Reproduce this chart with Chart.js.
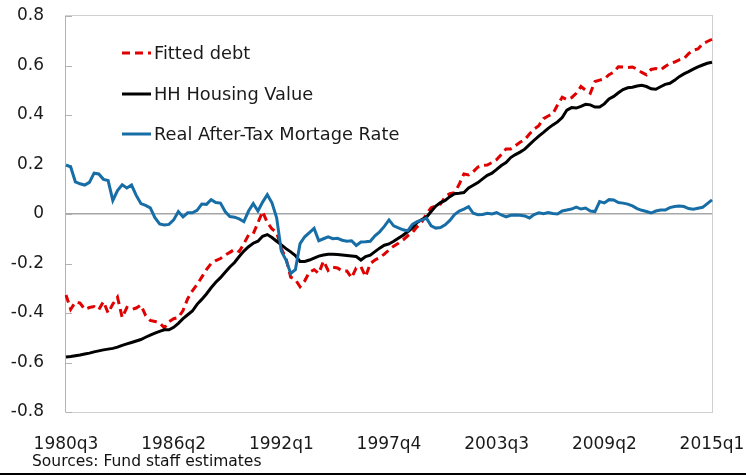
<!DOCTYPE html>
<html lang="en">
<head>
  <meta charset="UTF-8">
  <title>Fitted debt vs housing value</title>
  <script src="https://cdn.jsdelivr.net/npm/chart.js"></script>
  <style>
    body {
      margin: 0;
      padding: 0;
      background: #ffffff;
    }

    .wrap {
      position: relative;
      width: 746px;
      height: 475px;
      overflow: hidden;
    }

    .source {
      position: absolute;
      left: 32px;
      top: 452px;
      font-family: 'DejaVu Sans', sans-serif;
      font-size: 15.5px;
      color: #111;
      white-space: nowrap;
    }

    .bottom-rule {
      position: absolute;
      left: 0;
      top: 473px;
      width: 746px;
      height: 2px;
      background: #000;
    }
  </style>
</head>
<body>

  <div class="wrap">
    <canvas id="debtChart" width="746" height="475"></canvas>
    <div class="source">Sources: Fund staff estimates</div>
    <div class="bottom-rule"></div>
  </div>

  <script>
    // quarterly series, 1980q3 .. 2015q1 (139 points)
    const startYear = 1980;
    const startQuarter = 3;
    const tickLabels = ['1980q3', '1986q2', '1992q1', '1997q4', '2003q3', '2009q2', '2015q1'];

    const fittedDebt = [
      -0.327, -0.385, -0.356, -0.360, -0.385, -0.378, -0.374, -0.387, -0.354, -0.400,
      -0.364, -0.336, -0.418, -0.378, -0.386, -0.380, -0.368, -0.410, -0.430, -0.434,
      -0.440, -0.460, -0.435, -0.423, -0.418, -0.390, -0.342, -0.310, -0.285, -0.255,
      -0.225, -0.200, -0.188, -0.180, -0.166, -0.155, -0.143, -0.152, -0.120, -0.085,
      -0.080, -0.035, 0.010, -0.035, -0.060, -0.075, -0.140, -0.180, -0.255, -0.265,
      -0.294, -0.270, -0.235, -0.225, -0.240, -0.190, -0.228, -0.215, -0.218, -0.230,
      -0.230, -0.258, -0.218, -0.213, -0.253, -0.200, -0.186, -0.176, -0.162, -0.145,
      -0.130, -0.118, -0.105, -0.088, -0.075, -0.052, -0.033, 0.000, 0.025, 0.032,
      0.040, 0.070, 0.082, 0.086, 0.120, 0.162, 0.158, 0.171, 0.190, 0.197,
      0.198, 0.208, 0.220, 0.240, 0.263, 0.263, 0.276, 0.290, 0.300, 0.323,
      0.343, 0.357, 0.385, 0.396, 0.405, 0.440, 0.472, 0.462, 0.470, 0.488,
      0.515, 0.500, 0.488, 0.535, 0.541, 0.546, 0.563, 0.573, 0.595, 0.594,
      0.592, 0.594, 0.585, 0.572, 0.562, 0.584, 0.588, 0.582, 0.596, 0.608,
      0.614, 0.623, 0.628, 0.648, 0.662, 0.667, 0.688, 0.697, 0.706
    ];

    const housingValue = [
      -0.578, -0.576, -0.573, -0.570, -0.566, -0.562, -0.557, -0.553, -0.549, -0.546,
      -0.543, -0.538, -0.531, -0.525, -0.519, -0.513, -0.507, -0.498, -0.489, -0.481,
      -0.474, -0.468, -0.468, -0.458, -0.442, -0.423, -0.407, -0.392, -0.365, -0.345,
      -0.323, -0.298, -0.276, -0.257, -0.235, -0.214, -0.196, -0.172, -0.150, -0.132,
      -0.118, -0.110, -0.090, -0.083, -0.095, -0.110, -0.125, -0.140, -0.153, -0.168,
      -0.192, -0.192, -0.186, -0.178, -0.170, -0.166, -0.163, -0.163, -0.164, -0.166,
      -0.168, -0.170, -0.172, -0.186, -0.172, -0.166, -0.152, -0.138, -0.126, -0.121,
      -0.110, -0.098, -0.086, -0.072, -0.056, -0.034, -0.022, -0.013, 0.010, 0.032,
      0.046, 0.055, 0.070, 0.082, 0.084, 0.087, 0.105, 0.116, 0.127, 0.142,
      0.156, 0.165, 0.180, 0.196, 0.208, 0.228, 0.240, 0.250, 0.262, 0.280,
      0.298, 0.315, 0.330, 0.346, 0.360, 0.372, 0.390, 0.420, 0.430, 0.428,
      0.435, 0.443, 0.441, 0.432, 0.432, 0.445, 0.465, 0.475, 0.490, 0.503,
      0.510, 0.512, 0.517, 0.520, 0.515, 0.506, 0.504, 0.514, 0.524, 0.528,
      0.540, 0.555, 0.566, 0.575, 0.585, 0.594, 0.602, 0.609, 0.613
    ];

    const mortgageRate = [
      0.198, 0.190, 0.130, 0.122, 0.117, 0.128, 0.165, 0.162, 0.140, 0.135,
      0.055, 0.095, 0.118, 0.105, 0.117, 0.075, 0.042, 0.035, 0.025, -0.015,
      -0.040, -0.044, -0.042, -0.024, 0.010, -0.012, 0.005, 0.005, 0.015, 0.040,
      0.039, 0.058, 0.046, 0.044, 0.010, -0.010, -0.013, -0.020, -0.031, 0.012,
      0.042, 0.012, 0.048, 0.078, 0.045, -0.015, -0.150, -0.186, -0.240, -0.225,
      -0.120, -0.092, -0.075, -0.058, -0.108, -0.100, -0.092, -0.100, -0.098, -0.106,
      -0.110, -0.108, -0.127, -0.113, -0.112, -0.110, -0.088, -0.072, -0.050, -0.024,
      -0.048, -0.056, -0.064, -0.068, -0.042, -0.031, -0.025, -0.017, -0.048, -0.057,
      -0.055, -0.044, -0.026, -0.002, 0.012, 0.020, 0.030, 0.003, -0.003, -0.002,
      0.003, 0.000, 0.006, -0.004, -0.012, -0.005, -0.004, -0.005, -0.008, -0.016,
      -0.002, 0.005, 0.001, 0.006, 0.002, 0.000, 0.012, 0.016, 0.020, 0.028,
      0.020, 0.024, 0.012, 0.010, 0.050, 0.045, 0.058, 0.057, 0.046, 0.044,
      0.040, 0.033, 0.022, 0.015, 0.010, 0.004, 0.012, 0.016, 0.016, 0.026,
      0.030, 0.032, 0.030, 0.022, 0.019, 0.023, 0.027, 0.042, 0.057
    ];

    // category labels for every quarter
    const quarters = [];
    for (let i = 0; i < fittedDebt.length; i++) {
      const q = startQuarter - 1 + i;
      quarters.push((startYear + Math.floor(q / 4)) + 'q' + (q % 4 + 1));
    }

    const FONT = "'DejaVu Sans', sans-serif";
    Chart.defaults.font.family = FONT;
    Chart.defaults.color = '#1a1a1a';

    // frame, inward y ticks, legend inside the plot
    const decorPlugin = {
      id: 'decor',
      beforeDatasetsDraw(chart) {
        const { ctx, chartArea: a, scales } = chart;
        ctx.save();
        ctx.strokeStyle = '#d0d0d0';
        ctx.lineWidth = 1;
        ctx.strokeRect(a.left - 0.5, a.top - 0.5, a.right - a.left + 1, a.bottom - a.top + 1);
        ctx.strokeStyle = '#b3b3b3';
        ctx.beginPath();
        ctx.moveTo(a.left - 0.5, a.top);
        ctx.lineTo(a.left - 0.5, a.bottom);
        scales.y.ticks.forEach(t => {
          const y = Math.round(scales.y.getPixelForValue(t.value)) + 0.5;
          ctx.moveTo(a.left, y);
          ctx.lineTo(a.left + 6, y);
        });
        ctx.stroke();
        ctx.restore();
      },
      afterDraw(chart) {
        const { ctx } = chart;
        const rows = [53, 94, 134];
        ctx.save();
        ctx.font = '17.8px ' + FONT;
        ctx.textBaseline = 'middle';
        chart.data.datasets.forEach((ds, i) => {
          const y = rows[i];
          ctx.strokeStyle = ds.borderColor;
          ctx.lineWidth = 3;
          ctx.setLineDash(ds.borderDash || []);
          ctx.beginPath();
          ctx.moveTo(122, y);
          ctx.lineTo(151, y);
          ctx.stroke();
          ctx.setLineDash([]);
          ctx.fillStyle = '#1a1a1a';
          ctx.fillText(ds.label, 154, y + 1);
        });
        ctx.restore();
      }
    };

    const ctx = document.getElementById('debtChart').getContext('2d');
    new Chart(ctx, {
      type: 'line',
      data: {
        labels: quarters,
        datasets: [
          {
            label: 'Fitted debt',
            data: fittedDebt,
            borderColor: '#e00000',
            borderWidth: 3,
            borderDash: [8, 5],
            pointRadius: 0,
            tension: 0,
            order: 3
          },
          {
            label: 'HH Housing Value',
            data: housingValue,
            borderColor: '#000000',
            borderWidth: 3,
            pointRadius: 0,
            tension: 0,
            order: 2
          },
          {
            label: 'Real After-Tax Mortage Rate',
            data: mortgageRate,
            borderColor: '#176ea6',
            borderWidth: 3,
            pointRadius: 0,
            tension: 0,
            order: 1
          }
        ]
      },
      options: {
        responsive: false,
        animation: false,
        layout: {
          padding: { top: 16, right: 34, left: 0, bottom: 0 }
        },
        plugins: {
          legend: { display: false },
          tooltip: { enabled: false }
        },
        scales: {
          x: {
            grid: { display: false },
            border: { display: false },
            afterFit(scale) {
              scale.height = 63;
              scale.paddingLeft = 0;
              scale.paddingRight = 0;
            },
            ticks: {
              autoSkip: false,
              maxRotation: 0,
              padding: 14,
              font: { size: 17 },
              callback(value) {
                const lab = this.getLabelForValue(value);
                return tickLabels.includes(lab) ? lab : null;
              }
            }
          },
          y: {
            min: -0.8,
            max: 0.8,
            border: { display: false },
            afterFit(scale) {
              scale.width = 66;
              scale.paddingTop = 0;
              scale.paddingBottom = 0;
            },
            grid: {
              drawTicks: false,
              lineWidth: 1.5,
              color: c => (Math.abs(c.tick.value) < 1e-9 ? '#a6a6a6' : 'rgba(0,0,0,0)')
            },
            ticks: {
              stepSize: 0.2,
              padding: 22,
              font: { size: 17 },
              callback: v => (Math.abs(v) < 1e-9 ? '0' : v.toFixed(1))
            }
          }
        }
      },
      plugins: [decorPlugin]
    });
  </script>
</body>
</html>
